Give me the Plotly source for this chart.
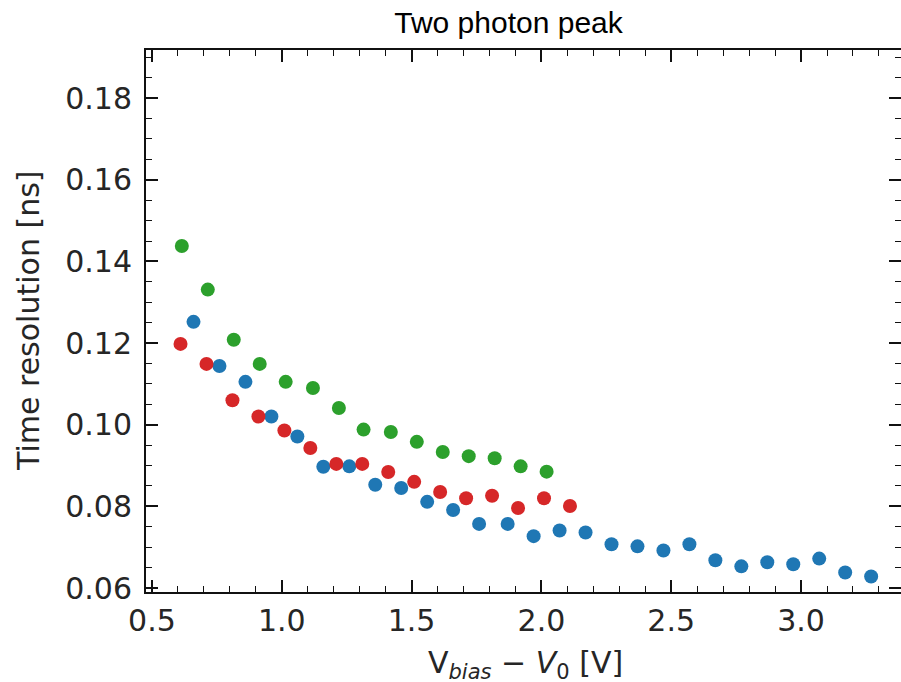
import plotly.graph_objects as go

# Blue series
blue_x = [0.66, 0.76, 0.86, 0.96, 1.06, 1.16, 1.26, 1.36, 1.46, 1.56, 1.66, 1.76, 1.87, 1.97,
          2.07, 2.17, 2.27, 2.37, 2.47, 2.57, 2.67, 2.77, 2.87, 2.97, 3.07, 3.17, 3.27]
blue_y = [0.1252, 0.1144, 0.1105, 0.1020, 0.0971, 0.0897, 0.0898, 0.0853, 0.0845, 0.0811, 0.0791,
          0.0757, 0.0757, 0.0727, 0.0741, 0.0736, 0.0707, 0.0702, 0.0692, 0.0707, 0.0668, 0.0653,
          0.0663, 0.0658, 0.0672, 0.0638, 0.0628]

# Red series
red_x = [0.61, 0.71, 0.81, 0.91, 1.01, 1.11, 1.21, 1.31, 1.41, 1.51, 1.61, 1.71, 1.81, 1.91, 2.01, 2.11]
red_y = [0.1198, 0.1149, 0.1060, 0.1020, 0.0986, 0.0943, 0.0904, 0.0904, 0.0884, 0.0860, 0.0835,
         0.0820, 0.0826, 0.0796, 0.0820, 0.0801]

# Green series
green_x = [0.615, 0.715, 0.815, 0.915, 1.015, 1.12, 1.22, 1.315, 1.42, 1.52, 1.62, 1.72, 1.82, 1.92, 2.02]
green_y = [0.1438, 0.1331, 0.1208, 0.1149, 0.1105, 0.1090, 0.1041, 0.0988, 0.0982, 0.0958, 0.0933,
           0.0923, 0.0918, 0.0898, 0.0885]

x_ticks = [0.5, 1.0, 1.5, 2.0, 2.5, 3.0]
y_ticks = [0.06, 0.08, 0.10, 0.12, 0.14, 0.16, 0.18]

fig = go.Figure()
for xs, ys, col in [(blue_x, blue_y, "#1f77b4"), (red_x, red_y, "#d62728"), (green_x, green_y, "#2ca02c")]:
    fig.add_trace(go.Scatter(x=xs, y=ys, mode="markers",
                             marker=dict(size=14, color=col, line=dict(width=0)),
                             showlegend=False))

tick_font = dict(family="DejaVu Sans", size=30, color="#262626")
axis_common = dict(
    showline=True, linewidth=2, linecolor="#111111", mirror="allticks",
    ticks="inside", ticklen=12, tickwidth=1.5, tickcolor="#111111",
    showgrid=False, zeroline=False, tickfont=tick_font, automargin=False,
)

fig.update_xaxes(
    range=[0.477, 3.385], tickvals=x_ticks, ticktext=[f"{v:.1f}" for v in x_ticks],
    minor=dict(ticks="inside", dtick=0.1, tick0=0.5, ticklen=6, tickwidth=1.2, tickcolor="#111111", showgrid=False),
    ticklabelstandoff=1,
    **axis_common,
)
fig.update_yaxes(
    range=[0.05902, 0.1918], tickvals=y_ticks, ticktext=[f"{v:.2f}" for v in y_ticks],
    minor=dict(ticks="inside", dtick=0.005, tick0=0.06, ticklen=6, tickwidth=1.2, tickcolor="#111111", showgrid=False),
    ticklabelstandoff=6,
    **axis_common,
)

fig.add_annotation(text="V<sub><i>bias</i></sub> − <i>V</i><sub>0</sub> [V]",
                   xref="paper", yref="paper", x=0.5026, y=-0.0942,
                   xanchor="center", yanchor="top", showarrow=False,
                   font=dict(family="DejaVu Sans", size=30, color="#262626"))
fig.add_annotation(text="Time resolution [ns]", textangle=-90,
                   xref="paper", yref="paper", x=-0.1563, y=0.5,
                   xanchor="center", yanchor="middle", showarrow=False,
                   font=dict(family="DejaVu Sans", size=30, color="#262626"))

fig.update_layout(
    width=901, height=682,
    margin=dict(l=146, r=0, t=50, b=90),
    paper_bgcolor="white", plot_bgcolor="white",
    title=dict(text="Two photon peak", x=0.5644, xref="container", xanchor="center",
               y=0.9677, yref="container", yanchor="middle",
               font=dict(family="Liberation Sans, Arial", size=30, color="#000000")),
)

fig.write_html("out.html", config={"displayModeBar": False},
               post_script="document.body.style.margin='0';document.body.style.overflow='hidden';"
                           "document.documentElement.style.overflow='hidden';")
